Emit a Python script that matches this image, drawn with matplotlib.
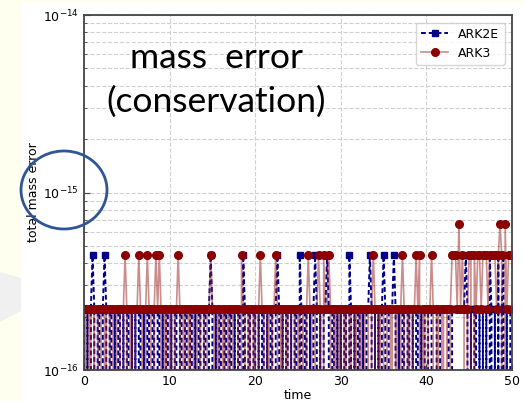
import numpy as np
import matplotlib
matplotlib.use("Agg")
import matplotlib.pyplot as plt
from matplotlib.patches import Ellipse, Rectangle, Polygon

# mass error per step, in units of machine eps (2.22e-16), one digit per step of 0.2
eps = 2.220446049250313e-16
dt = 0.2

ark2e_steps = (
    "1010121011" "0121011010" "1101011010" "1011010110" "1101101011"
    "0101101101" "1011010110" "1101210101" "1011011010" "1102101101"
    "1010110101" "1012101011" "0101102101" "1010121010" "1121011010"
    "1011021010" "1101011210" "1010121011" "1210101101" "1010110101"
    "1101111011" "1111011111" "1112101011" "0101010210" "1020120101"
    "1"
)
ark3_steps = (
    "1101101011" "1011011101" "1101210110" "1121101211" "0121210110"
    "1101121011" "0110111011" "1011211011" "0110110111" "1021101101"
    "1012110110" "1121011011" "0111011010" "1211011210" "2112101101"
    "1011011011" "0110111012" "1011011101" "1011012101" "1011212011"
    "0112101101" "1010122213" "1210122021" "2212221222" "2123203122"
    "2"
)

time = np.arange(len(ark2e_steps)) * dt
ark2e = np.array([int(c) for c in ark2e_steps]) * eps
ark3 = np.array([int(c) for c in ark3_steps]) * eps

# ! figure: slide background + white chart image
fig = plt.figure(figsize=(5.25, 4.01), dpi=100, facecolor="#fffff0")
fig.add_artist(Polygon([[0, 1 - 272 / 401], [21 / 525, 1 - 278 / 401],
                        [21 / 525, 1 - 311 / 401], [0, 1 - 322 / 401]],
                       closed=True, transform=fig.transFigure,
                       facecolor="#f0f0f0", edgecolor="none", zorder=0))
fig.add_artist(Rectangle((22 / 525, 0), 1 - 22 / 525, 398 / 401,
                         transform=fig.transFigure, facecolor="white",
                         edgecolor="none", zorder=0))

ax = fig.add_axes([84 / 525, 1 - 370 / 401, 428 / 525, 355 / 401])
ax.set_facecolor("white")

ax.plot(time, ark2e, linestyle="--", dashes=(2.5, 1.5), color="darkblue",
        linewidth=1.4, marker="s", markersize=5, markerfacecolor="darkblue",
        markeredgecolor="darkblue", label="ARK2E")
ax.plot(time, ark3, linestyle="-", color=(0.6, 0.1, 0.1, 0.5),
        linewidth=1.2, marker="o", markersize=5.5, markerfacecolor="darkred",
        markeredgecolor="darkred", label="ARK3")

ax.set_yscale("log")
ax.set_ylim(1e-16, 1e-14)
ax.set_xlim(0, 50)
ax.set_xticks([0, 10, 20, 30, 40, 50])
ax.grid(True, which="both", linestyle="--", color="#d0d0d0", linewidth=0.8)
ax.tick_params(which="both", direction="in", labelsize=9, color="#444444")
ax.tick_params(which="major", length=4)
ax.tick_params(which="minor", length=2)
for s in ax.spines.values():
    s.set_color("#444444")
    s.set_linewidth(1.3)

ax.set_xlabel("time", fontsize=9, labelpad=1)
ax.set_ylabel("total mass error", fontsize=9, labelpad=2)

ax.legend(loc="upper right", fontsize=9, frameon=True, borderaxespad=0.6,
          handlelength=2.2, framealpha=0.8, edgecolor="#cccccc")

# slide annotations
fig.text(216 / 525, 1 - 68 / 401, "mass  error",
         family=["Lato", "DejaVu Sans"], fontsize=25.5, ha="center", va="baseline")
fig.text(216 / 525, 1 - 112 / 401, "(conservation)",
         family=["Lato", "DejaVu Sans"], fontsize=25.5, ha="center", va="baseline")
fig.add_artist(Ellipse((64 / 525, 1 - 190 / 401), 86 / 525, 78 / 401,
                       transform=fig.transFigure, fill=False,
                       edgecolor="#2f5597", linewidth=2, zorder=5))

fig.savefig("out.png", dpi=100, facecolor=fig.get_facecolor())
